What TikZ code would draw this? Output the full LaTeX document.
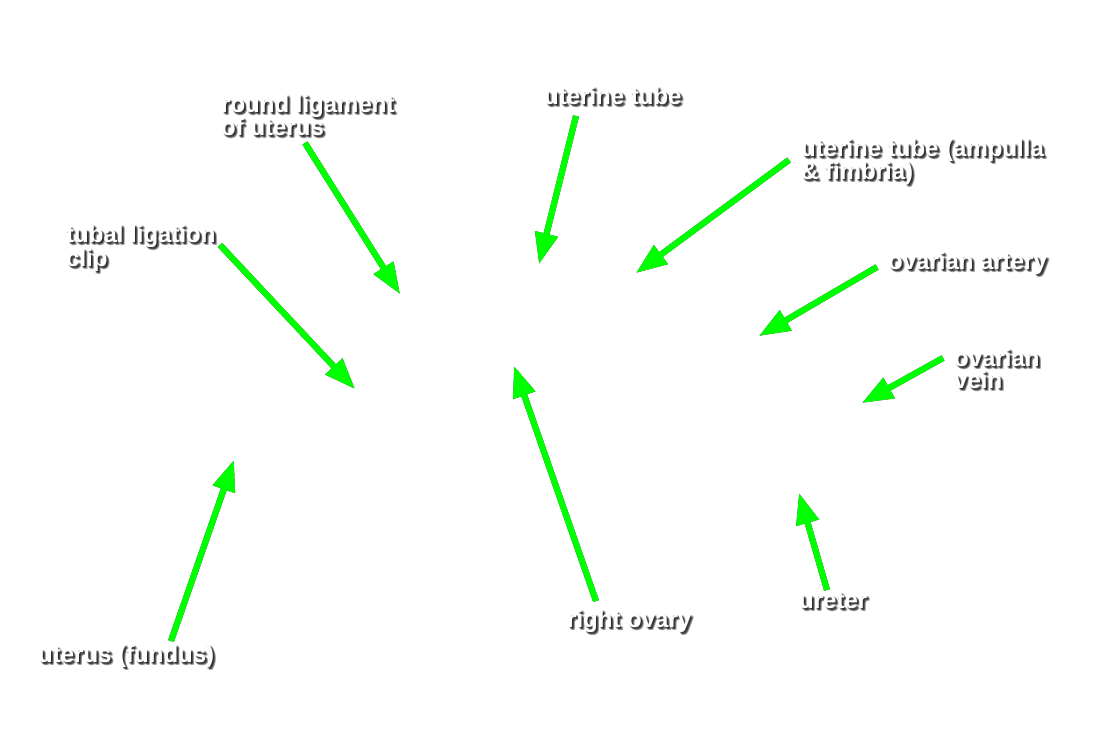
\documentclass[tikz,border=0pt]{standalone}
\usepackage{fontspec}
\newfontfamily\lab{Liberation Sans}
\usetikzlibrary{arrows.meta}
\definecolor{grn}{RGB}{0,255,0}
\tikzset{
  lbl/.style={font=\lab\bfseries\fontsize{24}{21.5}\selectfont, text=white, inner sep=0pt, anchor=base west, align=left},
  shd/.style={lbl, text=black, text opacity=0.22},
  arr/.style={draw=grn, line width=6pt, -{Triangle[length=31pt,width=22pt]}},
  arrshd/.style={draw=black, opacity=0.2, line width=6pt, -{Triangle[length=31pt,width=22pt]}},
}
\newcommand\mylabel[3]{%
  \foreach \dx/\dy in {1/1,2/2,3/3,2/1,1/2,3/2,2/3}{\node[shd, shift={(\dx,\dy)}] at (#2) {#3};}
  \node[lbl] (#1) at (#2) {#3};}
\newcommand\myarrow[2]{%
  \foreach \dx/\dy in {1/1,2/2,3/3,3/2,2/3}{\draw[arrshd, shift={(\dx,\dy)}] (#1) -- (#2);}
  \draw[arr] (#1) -- (#2);}
\begin{document}
\begin{tikzpicture}[x=1pt,y=-1pt]
\fill[white] (0,0) rectangle (1100,746);
\useasboundingbox (0,0) rectangle (1100,746);
% label positions (baseline of last line)
\coordinate (pRL) at (221,136);
\coordinate (pUT) at (544,105);
\coordinate (pAM) at (801,180);
\coordinate (pTL) at (66,266);
\coordinate (pOA) at (888,269);
\coordinate (pOV) at (954,388);
\coordinate (pUF) at (38,662);
\coordinate (pRO) at (567,627);
\coordinate (pUR) at (799,608);
% labels
\mylabel{rl}{pRL}{round ligament\\of uterus}
\mylabel{ut}{pUT}{uterine tube}
\mylabel{am}{pAM}{uterine tube (ampulla\\\& fimbria)}
\mylabel{tl}{pTL}{tubal ligation\\clip}
\mylabel{oa}{pOA}{ovarian artery}
\mylabel{ov}{pOV}{ovarian\\vein}
\mylabel{uf}{pUF}{uterus (fundus)}
\mylabel{ro}{pRO}{right ovary}
\mylabel{ur}{pUR}{ureter}
% arrow ends
\coordinate (sRL) at (305,143); \coordinate (tRL) at (400,294);
\coordinate (sTL) at (220,245); \coordinate (tTL) at (355,389);
\coordinate (sUT) at (576,116); \coordinate (tUT) at (539,264);
\coordinate (sAM) at (789,160); \coordinate (tAM) at (636,273);
\coordinate (sOA) at (877,267); \coordinate (tOA) at (759,336);
\coordinate (sOV) at (943,358); \coordinate (tOV) at (862,403);
\coordinate (sUF) at (171,641); \coordinate (tUF) at (234,460);
\coordinate (sRO) at (596,601); \coordinate (tRO) at (514,366);
\coordinate (sUR) at (827,590); \coordinate (tUR) at (799,493);
% arrows
\myarrow{sRL}{tRL}
\myarrow{sTL}{tTL}
\myarrow{sUT}{tUT}
\myarrow{sAM}{tAM}
\myarrow{sOA}{tOA}
\myarrow{sOV}{tOV}
\myarrow{sUF}{tUF}
\myarrow{sRO}{tRO}
\myarrow{sUR}{tUR}
\end{tikzpicture}
\end{document}
